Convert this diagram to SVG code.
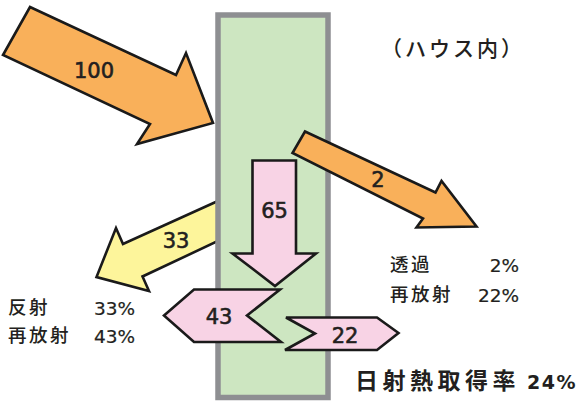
<svg xmlns="http://www.w3.org/2000/svg" width="578" height="405" viewBox="0 0 578 405">
<style>
.arr{stroke:#1a1a1a;stroke-width:2.6;stroke-linejoin:miter}
.or{fill:#f9b05a}
.ye{fill:#fdf59b}
.pk{fill:#f8d3e5}
.num{font-family:"DejaVu Sans","Liberation Sans",sans-serif;font-size:21px;fill:#231f20;stroke:#231f20;stroke-width:0.6;text-anchor:middle;dominant-baseline:central}
.jp{font-family:"Noto Sans CJK JP","Noto Sans",sans-serif;font-size:18.5px;font-weight:500;fill:#231f20;letter-spacing:2.5px}
.pc{font-family:"DejaVu Sans","Liberation Sans",sans-serif;font-size:18.5px;fill:#231f20;stroke:#231f20;stroke-width:0.2}
</style>
<rect width="578" height="405" fill="#ffffff"/>
<g id="arrow-33">
<polygon class="arr ye" points="219,200.5 123,244 116,228 96.5,277 149,291 142.5,276.5 219,240.5"/>
</g>
<g id="house">
<rect x="218" y="15" width="110" height="382.5" fill="#cde6c1" stroke="#8e8f92" stroke-width="5.5"/>
</g>
<g id="connectors">
<g id="arrow-100">
<polygon class="arr or" points="30,7 176,75 186,53 213,123 137,144 150,124 3,55"/>
<text class="num" x="94" y="71">100</text>
</g>
<g id="arrow-2">
<polygon class="arr or" points="305,131.5 435.5,192.5 441.5,181 476.5,226.5 416.5,227.5 423,218.5 292.5,153"/>
<text class="num" x="378" y="180">2</text>
</g>
<g id="arrow-33-label">
<text class="num" x="176" y="241">33</text>
</g>
<g id="arrow-65">
<polygon class="arr pk" points="252.5,160.5 296,160.5 296,253.5 316,253.5 275,286 232.5,253.5 252.5,253.5"/>
<text class="num" x="274.5" y="211">65</text>
</g>
<g id="arrow-43">
<polygon class="arr pk" points="280,289.5 194,289.5 164,315.5 194,342 281,342 247,315.5"/>
<text class="num" x="219" y="317">43</text>
</g>
<g id="arrow-22">
<polygon class="arr pk" points="286,317.5 377,317.5 398.5,333 377,350 285,350 315,333.5"/>
<text class="num" x="345" y="336">22</text>
</g>
</g>
<g id="label-house">
<text x="381" y="55.5" font-family="'Noto Sans CJK JP','Noto Sans',sans-serif" font-size="21" font-weight="500" fill="#231f20" letter-spacing="3">（ハウス内）</text>
</g>
<g id="label-right">
<text class="jp" x="390" y="271">透過</text>
<text class="pc" x="519" y="272" text-anchor="end">2%</text>
<text class="jp" x="390" y="301">再放射</text>
<text class="pc" x="519" y="302" text-anchor="end">22%</text>
</g>
<g id="label-left">
<text class="jp" x="8" y="314">反射</text>
<text class="pc" x="94" y="315">33%</text>
<text class="jp" x="8" y="342">再放射</text>
<text class="pc" x="94" y="343">43%</text>
</g>
<g id="label-total">
<text x="355" y="389" font-family="'Noto Sans CJK JP','Noto Sans',sans-serif" font-size="23" font-weight="700" fill="#231f20" letter-spacing="4.5">日射熱取得率</text>
<text x="527" y="388.5" font-family="'DejaVu Sans','Liberation Sans',sans-serif" font-size="19" font-weight="700" fill="#231f20" letter-spacing="1.5">24%</text>
</g>
</svg>
